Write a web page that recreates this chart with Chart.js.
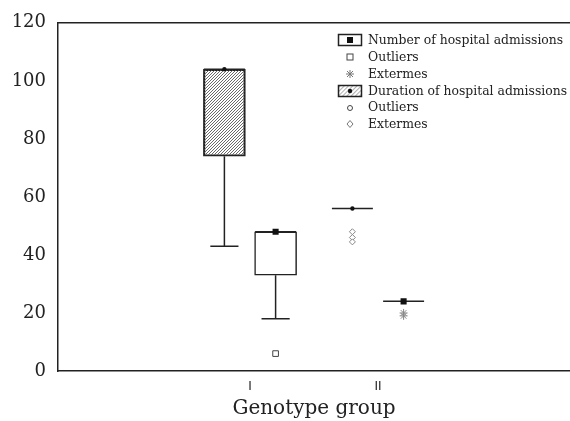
<!DOCTYPE html>
<html><head><meta charset="utf-8">
<script src="https://cdn.jsdelivr.net/npm/chart.js@4.4.1/dist/chart.umd.min.js"></script>
<style>
html,body{margin:0;padding:0;background:#fff;overflow:hidden;}
#wrap{position:relative;width:570px;height:421px;}
#c{display:block;}
#legend{position:absolute;left:337px;top:32px;font-family:'DejaVu Serif';font-size:12.4px;color:#222;line-height:1;}
.row{display:flex;align-items:center;height:16.8px;white-space:nowrap;}
.ic{width:26px;height:14px;margin-right:5px;flex:none;}
</style></head>
<body>
<div id="wrap">
<canvas id="c" width="570" height="421"></canvas>
<div id="legend">
 <div class="row"><svg class="ic" viewBox="0 0 26 14"><rect x="1.5" y="1.5" width="23" height="11" fill="#fff" stroke="#222" stroke-width="1.5"/><rect x="10" y="4" width="6" height="6" fill="#111"/></svg><span>Number of hospital admissions</span></div>
 <div class="row"><svg class="ic" viewBox="0 0 26 14"><rect x="10" y="4" width="6" height="6" fill="#fff" stroke="#444" stroke-width="1"/></svg><span>Outliers</span></div>
 <div class="row"><svg class="ic" viewBox="0 0 26 14"><g stroke="#777" stroke-width="1"><line x1="13" y1="3" x2="13" y2="11"/><line x1="9" y1="7" x2="17" y2="7"/><line x1="10" y1="4" x2="16" y2="10"/><line x1="16" y1="4" x2="10" y2="10"/></g></svg><span>Extermes</span></div>
 <div class="row"><svg class="ic" viewBox="0 0 26 14"><defs><pattern id="h" width="3" height="3" patternUnits="userSpaceOnUse" patternTransform="rotate(45)"><line x1="0" y1="0" x2="0" y2="3" stroke="#777" stroke-width="1.2"/></pattern></defs><rect x="1.5" y="1.5" width="23" height="11" fill="url(#h)" stroke="#222" stroke-width="1.5"/><circle cx="13" cy="7" r="2.2" fill="#111"/></svg><span>Duration of hospital admissions</span></div>
 <div class="row"><svg class="ic" viewBox="0 0 26 14"><circle cx="13" cy="7" r="2.5" fill="#fff" stroke="#444" stroke-width="1"/></svg><span>Outliers</span></div>
 <div class="row"><svg class="ic" viewBox="0 0 26 14"><path d="M13 3.5 L16 7 L13 10.5 L10 7 Z" fill="#fff" stroke="#777" stroke-width="1"/></svg><span>Extermes</span></div>
</div>
</div>
<script>
// ---- data ----
const xTickLabels = ['', 'I', 'II', ''];
const xTickPositions = [0.5, 1.5, 2.5, 3.5];
const groupPositions = [1.5, 2.5];

const durationMin      = [43, 56];
const durationQ1       = [74, 56];
const durationMedian   = [104, 56];
const durationQ3       = [104, 56];
const durationMax      = [104, 56];
const durationOutliers = [[], []];
const durationExtremes = [[], [48, 46, 44.5]];

const admissionsMin      = [18, 24];
const admissionsQ1       = [33, 24];
const admissionsMedian   = [48, 24];
const admissionsQ3       = [48, 24];
const admissionsMax      = [48, 24];
const admissionsOutliers = [[6], []];
const admissionsExtremes = [[], [20, 19]];

// ---- styling ----
const INK = '#222';
const OFFSET = 0.2, CAP = 0.11, MEDW = 0.16;

function hatch() {
  const p = document.createElement('canvas'); p.width = 3; p.height = 3;
  const g = p.getContext('2d');
  g.strokeStyle = '#6a6a6a'; g.lineWidth = 1;
  g.beginPath();
  g.moveTo(0, 3); g.lineTo(3, 0);
  g.moveTo(-1, 1); g.lineTo(1, -1);
  g.moveTo(2, 4); g.lineTo(4, 2);
  g.stroke();
  return g.createPattern(p, 'repeat');
}

function series(name, off, mins, q1s, meds, q3s, maxs, outs, exts, fill, medStyle, outStyle, extStyle) {
  const boxes = [], lines = [], medPts = [], outPts = [], extPts = [];
  groupPositions.forEach((g, i) => {
    const c = g + off;
    boxes.push({x: c, y: [q1s[i], q3s[i]]});
    lines.push({x: c, y: q3s[i]}, {x: c, y: maxs[i]}, {x: c, y: null},
               {x: c - CAP, y: maxs[i]}, {x: c + CAP, y: maxs[i]}, {x: c, y: null},
               {x: c, y: q1s[i]}, {x: c, y: mins[i]}, {x: c, y: null},
               {x: c - CAP, y: mins[i]}, {x: c + CAP, y: mins[i]}, {x: c, y: null},
               {x: c - MEDW, y: meds[i]}, {x: c + MEDW, y: meds[i]}, {x: c, y: null});
    medPts.push({x: c, y: meds[i]});
    outs[i].forEach(v => outPts.push({x: c, y: v}));
    exts[i].forEach(v => extPts.push({x: c, y: v}));
  });
  return [
    {type: 'bar', label: name, data: boxes, order: 3, grouped: false, barThickness: 42,
     backgroundColor: fill, borderColor: INK, borderWidth: 1.5, borderSkipped: false},
    {type: 'line', label: name + ' whiskers', data: lines, order: 2, borderColor: INK, borderWidth: 1.5,
     pointRadius: 0, spanGaps: false, tension: 0},
    Object.assign({type: 'line', label: name + ' median', data: medPts, order: 1, showLine: false}, medStyle),
    Object.assign({type: 'line', label: name + ' outliers', data: outPts, order: 1, showLine: false}, outStyle),
    Object.assign({type: 'line', label: name + ' extremes', data: extPts, order: 1, showLine: false}, extStyle)
  ];
}

const datasets = [
  ...series('Duration of hospital admissions', -OFFSET, durationMin, durationQ1, durationMedian, durationQ3, durationMax,
            durationOutliers, durationExtremes, hatch(),
            {pointStyle: 'circle', pointRadius: 2.2, pointBackgroundColor: '#111', pointBorderColor: '#111', pointBorderWidth: 0},
            {pointStyle: 'circle', pointRadius: 2.5, pointBackgroundColor: '#fff', pointBorderColor: '#444', pointBorderWidth: 1},
            {pointStyle: 'rectRot', pointRadius: 3, pointBackgroundColor: '#fff', pointBorderColor: '#888', pointBorderWidth: 1}),
  ...series('Number of hospital admissions', OFFSET, admissionsMin, admissionsQ1, admissionsMedian, admissionsQ3, admissionsMax,
            admissionsOutliers, admissionsExtremes, '#ffffff',
            {pointStyle: 'rect', pointRadius: 4.3, pointBackgroundColor: '#111', pointBorderColor: '#111', pointBorderWidth: 0},
            {pointStyle: 'rect', pointRadius: 4, pointBackgroundColor: '#fff', pointBorderColor: '#444', pointBorderWidth: 1},
            {pointStyle: 'star', pointRadius: 4, pointBackgroundColor: '#fff', pointBorderColor: '#888', pointBorderWidth: 1})
];

new Chart(document.getElementById('c'), {
  type: 'bar',
  data: {datasets},
  options: {
    responsive: false, animation: false, devicePixelRatio: 1,
    layout: {autoPadding: false, padding: {top: 22, right: 0, left: 0, bottom: 0}},
    plugins: {legend: {display: false}, tooltip: {enabled: false}},
    scales: {
      x: {
        type: 'linear', position: 'bottom', min: 0, max: 4, offset: false,
        afterBuildTicks: s => { s.ticks = xTickPositions.map(v => ({value: v})); },
        afterFit: s => { s.height = 50; s.paddingLeft = 0; s.paddingRight = 0; },
        grid: {display: false, drawTicks: false},
        border: {display: true, color: INK, width: 1.5},
        ticks: {padding: 9, color: INK, font: {family: 'DejaVu Sans', size: 12},
                callback: (v, i) => xTickLabels[i], maxRotation: 0, autoSkip: false},
        title: {display: true, text: 'Genotype group', color: INK, font: {family: 'DejaVu Serif', size: 20}, padding: {top: 0, bottom: 0}}
      },
      x2: {
        type: 'linear', position: 'top', min: 0, max: 4,
        afterFit: s => { s.height = 0; s.paddingLeft = 0; s.paddingRight = 0; },
        grid: {display: false, drawTicks: false},
        border: {display: true, color: INK, width: 1.5},
        ticks: {display: false}
      },
      y: {
        type: 'linear', position: 'left', min: 0, max: 120,
        afterFit: s => { s.width = 58; },
        grid: {display: false, drawTicks: false},
        border: {display: true, color: INK, width: 1.5},
        ticks: {stepSize: 20, padding: 12, color: INK, font: {family: 'DejaVu Serif', size: 18}}
      }
    }
  }
});
</script>
</body></html>
